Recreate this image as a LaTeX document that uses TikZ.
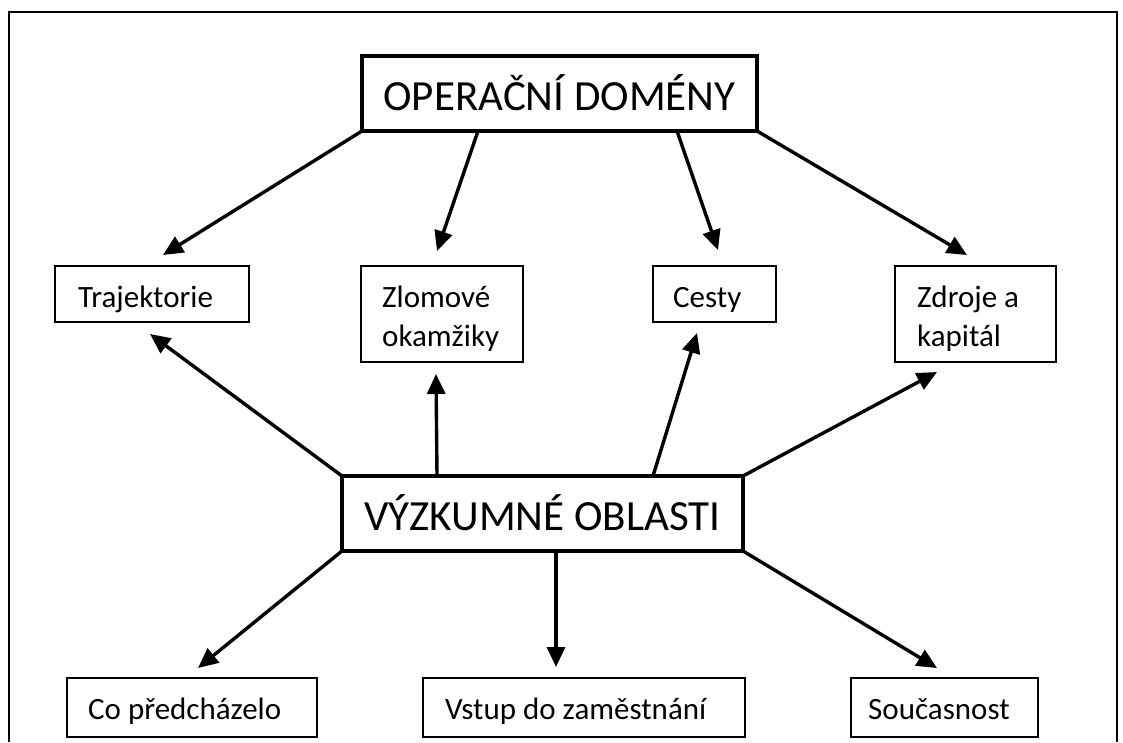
\documentclass[tikz,border=0pt]{standalone}
\usepackage{fontspec}
\setmainfont{Carlito}
\usetikzlibrary{arrows.meta,calc}
\begin{document}
\begin{tikzpicture}[x=1pt,y=-1pt,
  frame/.style={line width=2pt},
  bigbox/.style={draw, line width=3.4pt, anchor=north west, inner sep=0pt, outer sep=0pt,
    font=\fontsize{43}{51}\selectfont, text height=54pt, text depth=21pt,
    minimum height=75pt},
  smallbox/.style={draw, line width=1.7pt, anchor=north west, inner sep=0pt, outer sep=0pt},
  boxtext/.style={anchor=base west, inner sep=0pt, align=left,
    font=\fontsize{31}{39}\selectfont},
  arr/.style={line width=3.4pt, -{Triangle[length=20pt,width=18pt]}}
]
\useasboundingbox (0,0) rectangle (1123,742);

% outer frame (open at the bottom)
\draw[frame] (9,742) -- (9,12) -- (1117,12) -- (1117,742);

% main boxes
\node[bigbox, minimum width=395pt] (op) at (362,56) {OPERAČNÍ DOMÉNY};
\node[bigbox, minimum width=401pt] (vo) at (342,476) {VÝZKUMNÉ OBLASTI};

% upper row
\node[smallbox, minimum width=194pt, minimum height=56pt] (traj) at (55,266) {};
\node[smallbox, minimum width=162pt, minimum height=96pt] (zlom) at (361,266) {};
\node[smallbox, minimum width=123pt, minimum height=56pt] (cesty) at (653,266) {};
\node[smallbox, minimum width=161pt, minimum height=96pt] (zdroje) at (895,266) {};

% lower row
\node[smallbox, minimum width=250pt, minimum height=59pt] (co) at (67,678) {};
\node[smallbox, minimum width=322pt, minimum height=59pt] (vstup) at (423,678) {};
\node[smallbox, minimum width=187pt, minimum height=59pt] (soucas) at (851,678) {};

% box texts (two-line texts are placed by the baseline of their last line)
\node[boxtext] (trajT) at ($(traj.north west)+(23,41)$) {Trajektorie};
\node[boxtext] (zlomT) at ($(zlom.north west)+(21,80)$) {Zlomové\\okamžiky};
\node[boxtext] (cestyT) at ($(cesty.north west)+(20,41)$) {Cesty};
\node[boxtext] (zdrojeT) at ($(zdroje.north west)+(22,80)$) {Zdroje a\\kapitál};
\node[boxtext] (coT) at ($(co.north west)+(21,41)$) {Co předcházelo};
\node[boxtext] (vstupT) at ($(vstup.north west)+(22,41)$) {Vstup do zaměstnání};
\node[boxtext] (soucasT) at ($(soucas.north west)+(17,41)$) {Současnost};

% arrows from the operational domains
\draw[arr] (op.south west) -- ($(traj.north)+(11,-11)$);
\draw[arr] ($(op.south west)+(116,0)$) -- ($(zlom.north)+(-5,-15)$);
\draw[arr] ($(op.south east)+(-80,0)$) -- ($(cesty.north)+(3.5,-16)$);
\draw[arr] (op.south east) -- ($(zdroje.north)+(-8.5,-11)$);

% arrows from the research areas, upwards
\draw[arr] (vo.north west) -- ($(traj.south)+(-2,12)$);
\draw[arr] ($(vo.north west)+(95,0)$) -- ($(zlom.south)+(-6,12)$);
\draw[arr] ($(vo.north east)+(-90,0)$) -- ($(cesty.south)+(-17.5,11)$);
\draw[arr] (vo.north east) -- ($(zdroje.south)+(-38.5,10)$);

% arrows from the research areas, downwards
\draw[arr] (vo.south west) -- ($(co.north)+(6,-10)$);
\draw[arr] ($(vo.south)+(13.5,0)$) -- ($(vstup.north)+(-28,-11)$);
\draw[arr] (vo.south east) -- ($(soucas.north)+(-7.5,-10)$);
\end{tikzpicture}
\end{document}
